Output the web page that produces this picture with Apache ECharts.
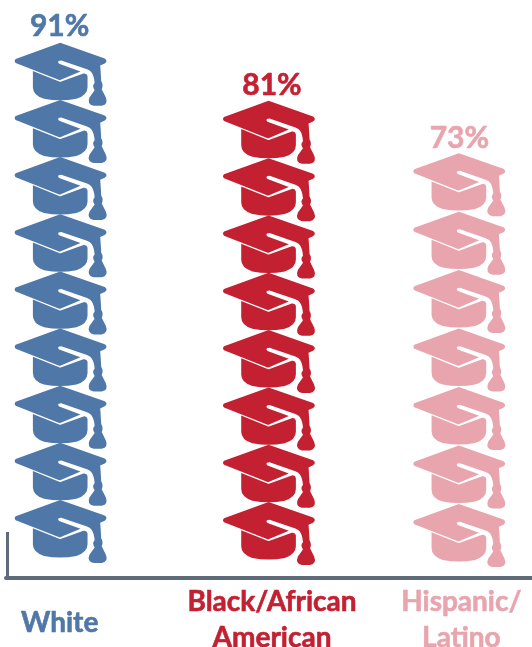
<!DOCTYPE html>
<html><head><meta charset="utf-8">
<style>html,body{margin:0;padding:0;background:#fff}#c{width:532px;height:647px}</style>
<script src="https://cdn.jsdelivr.net/npm/echarts@6/dist/echarts.min.js"></script>
</head><body><div id="c"></div>
<script>
const categories = ['White', 'Black/African\nAmerican', 'Hispanic/\nLatino'];
const values = [91, 81, 73];
const hatCounts = [9, 8, 7];
const boundValues = [90, 80.3, 71.6];
const colors = ['#4f78a8', '#c32032', '#e8a5ae'];
const styleKeys = ['w', 'b', 'h'];
const hatOffsets = [[-33, -15], [0, -13], [15, -11]];
const labelOffsets = [[-34, 4], [3, 4], [15, 5]];
const labelPads = [[6, 68, 0, 0], [0, 0, 0, 6], [0, 0, 0, 34]];

const hat = 'path://M46 0 L90 15.5 Q93.5 18 90 20.5 L85.5 22.5 Q86 28 86.5 38 Q89 42 87 46 L91 54 Q94 61 87 62.5 L79 62.5 Q72 61 75 54 L80 47 Q77 43 80 40 Q79.5 33 77 29.5 Q76 27.5 72.5 26.3 L47 17.5 Q43.5 17.5 44 19.5 Q44.5 21 47 21.5 L66 28.5 L46 37 Q45.5 37.2 45 37 L2 20 Q0 18 2 16 Z ' +
  'M19 28 L45 38.5 Q46 39 47 38.5 L69 30.5 Q72.5 30 73 33 L73 44 Q73 52 62 55.5 Q46 58.5 30 55.5 Q19 52 19 44 Z';

const rich = {};
styleKeys.forEach((k, i) => {
  rich[k] = { color: colors[i], fontFamily: 'Lato', fontWeight: 'bold', fontSize: 28, lineHeight: 36, padding: labelPads[i], align: 'center', textBorderColor: colors[i], textBorderWidth: 0.6 };
});

const chart = echarts.init(document.getElementById('c'), null, { renderer: 'canvas' });
chart.setOption({
  animation: false,
  backgroundColor: '#fff',
  grid: { left: 6, right: 0, top: 0, bottom: 69, containLabel: false, outerBoundsMode: 'none' },
  xAxis: {
    type: 'category',
    data: categories,
    axisLine: { show: true, lineStyle: { color: '#5f6b78', width: 4 } },
    axisTick: { show: false },
    axisLabel: {
      interval: 0,
      margin: 42,
      verticalAlign: 'middle',
      formatter: function (v, i) {
        return v.split('\n').map(l => '{' + styleKeys[i] + '|' + l + '}').join('\n');
      },
      rich
    }
  },
  yAxis: { type: 'value', min: 0, max: 100, show: false },
  graphic: [{
    type: 'rect',
    shape: { x: 6, y: 532, width: 3, height: 46 },
    style: { fill: '#5f6b78' }
  }],
  series: [{
    type: 'pictorialBar',
    symbol: hat,
    symbolSize: [92, 63],
    barCategoryGap: 0,
    z: 3,
    data: values.map((v, i) => ({
      value: v,
      symbolRepeat: hatCounts[i],
      symbolBoundingData: boundValues[i],
      symbolOffset: hatOffsets[i],
      itemStyle: { color: colors[i] },
      label: {
        show: true,
        position: 'top',
        formatter: '{c}%',
        offset: labelOffsets[i],
        color: colors[i],
        fontFamily: 'Lato',
        fontWeight: 'bold',
        fontSize: 30,
        textBorderColor: colors[i],
        textBorderWidth: 0.6
      }
    }))
  }]
});
</script></body></html>
